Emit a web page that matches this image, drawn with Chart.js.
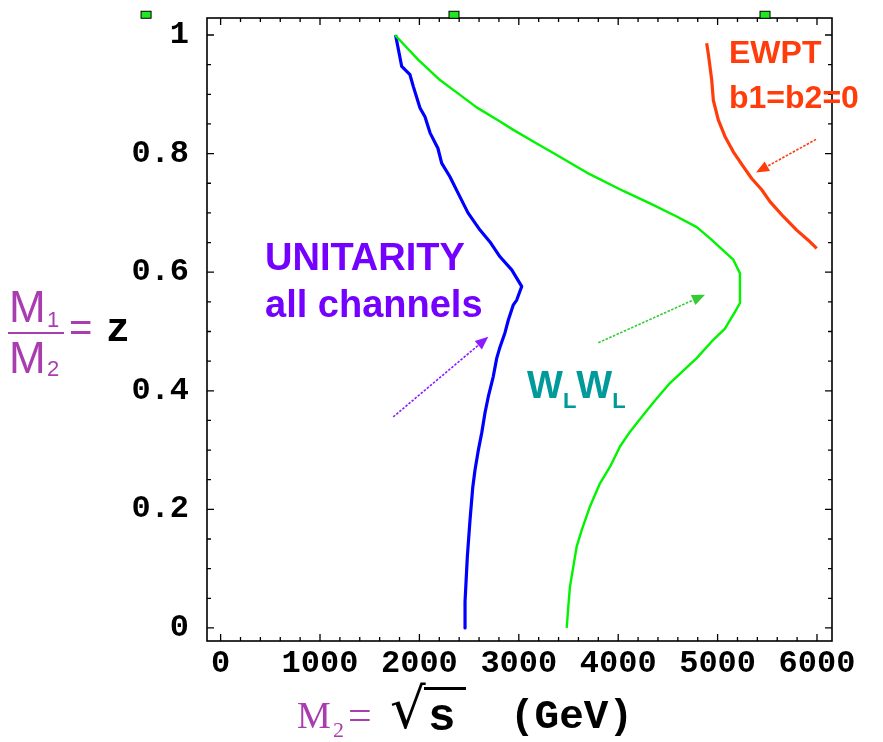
<!DOCTYPE html>
<html>
<head>
<meta charset="utf-8">
<script src="https://cdn.jsdelivr.net/npm/chart.js@4.4.1/dist/chart.umd.min.js"></script>
<style>
  html, body { margin: 0; padding: 0; background: #fff; }
  #wrap { position: relative; width: 883px; height: 742px; overflow: hidden; }
  #plot { position: absolute; left: 0; top: 0; }
  .t { position: absolute; white-space: nowrap; line-height: 1; }
  .sans { font-family: "Liberation Sans", Arial, sans-serif; }
  .serif { font-family: "Liberation Serif", "Times New Roman", serif; }
  .mono { font-family: "Liberation Mono", "Courier New", monospace; font-weight: bold; color: #000; }
  .mag { color: #a93cae; }
  .note { font-family: "Liberation Sans", Arial, sans-serif; font-weight: bold; }
  .note sub { font-size: 22px; vertical-align: -10px; }
</style>
</head>
<body>
<div id="wrap">
  <canvas id="plot" width="883" height="742"></canvas>

  <!-- y title: M1/M2 = z -->
  <div class="t sans mag" style="left:9px;top:285px;font-size:44px">M</div>
  <div class="t sans mag" style="left:47px;top:309px;font-size:22px">1</div>
  <div class="t" style="left:8px;top:332px;width:56px;height:2px;background:#a93cae"></div>
  <div class="t sans mag" style="left:9px;top:336px;font-size:44px">M</div>
  <div class="t sans mag" style="left:47px;top:358px;font-size:22px">2</div>
  <div class="t sans mag" style="left:69px;top:307px;font-size:40px">=</div>
  <div class="t mono" style="left:106px;top:311px;font-size:40px">z</div>

  <!-- x title: M2 = sqrt(s) (GeV) -->
  <div class="t serif mag" style="left:297px;top:696px;font-size:38px">M</div>
  <div class="t serif mag" style="left:333px;top:719px;font-size:22px">2</div>
  <div class="t serif mag" style="left:348px;top:694px;font-size:42px">=</div>
  <div class="t" style="left:390px;top:681px;font-size:56px;font-family:'DejaVu Sans',sans-serif">√</div>
  <div class="t" style="left:424px;top:687px;width:42px;height:3px;background:#000"></div>
  <div class="t mono" style="left:428px;top:695px;font-size:46px">s</div>
  <div class="t mono" style="left:510px;top:697px;font-size:41px">(GeV)</div>

  <!-- curve labels -->
  <div class="t note" style="left:265px;top:238px;font-size:38px;color:#7400ff">UNITARITY</div>
  <div class="t note" style="left:265px;top:285px;font-size:38px;color:#7400ff">all channels</div>
  <div class="t note" style="left:527px;top:366px;font-size:38px;color:#009a9a">W<sub>L</sub>W<sub>L</sub></div>
  <div class="t note" style="left:729px;top:36px;font-size:32px;color:#ff3c0a">EWPT</div>
  <div class="t note" style="left:729px;top:81px;font-size:32px;color:#ff3c0a">b1=b2=0</div>
</div>

<script>
// axis ranges (GeV on x, z = M1/M2 on y)
const X_MIN = -137, X_MAX = 6151;
const Z_MIN = -0.022, Z_MAX = 1.0287;

const xTicks = [0, 1000, 2000, 3000, 4000, 5000, 6000];
const zTicks = [0, 0.2, 0.4, 0.6, 0.8, 1];
const zTickLabels = ['0', '0.2', '0.4', '0.6', '0.8', '1'];
const X_MINOR = 200, Z_MINOR = 0.05;

// unitarity bound, all channels (blue)
const unitarityX = [1760, 1822, 1905, 1939, 2006, 2056, 2107, 2186, 2224, 2307, 2408, 2489, 2610,
  2710, 2811, 2929, 3029, 2979, 2945, 2894, 2861, 2811, 2778, 2743, 2693, 2660, 2627, 2593,
  2559, 2536, 2509, 2482, 2459, 2459];
const unitarityZ = [1.0, 0.947, 0.933, 0.913, 0.877, 0.862, 0.835, 0.809, 0.784, 0.761, 0.727, 0.700, 0.671,
  0.651, 0.626, 0.604, 0.576, 0.553, 0.545, 0.519, 0.498, 0.474, 0.455, 0.424, 0.390, 0.363, 0.329, 0.300,
  0.266, 0.236, 0.182, 0.120, 0.044, 0];

// W_L W_L channel (green)
const wlwlX = [1754, 1989, 2207, 2408, 2576, 2811, 2945, 3180, 3347, 3683, 4051, 4320, 4588, 4790,
  4924, 5158, 5225, 5225, 5175, 5074, 4957, 4790, 4521, 4387, 4252, 4119, 4018, 3918, 3817,
  3716, 3633, 3582, 3548, 3515, 3498, 3482];
const wlwlZ = [1.0, 0.958, 0.924, 0.899, 0.878, 0.854, 0.840, 0.817, 0.801, 0.768, 0.737, 0.716, 0.694, 0.676,
  0.657, 0.621, 0.598, 0.548, 0.533, 0.505, 0.486, 0.455, 0.413, 0.387, 0.359, 0.331, 0.306, 0.272, 0.244,
  0.205, 0.165, 0.137, 0.103, 0.070, 0.036, 0];

// EWPT bound, b1 = b2 = 0 (red)
const ewptX = [4890, 4906, 4941, 4957, 5007, 5074, 5158, 5259, 5343, 5444, 5527, 5661, 5796, 5912, 5997];
const ewptZ = [0.986, 0.969, 0.924, 0.890, 0.857, 0.829, 0.803, 0.778, 0.758, 0.739, 0.719, 0.694, 0.671, 0.654, 0.640];

// little green markers just above the top edge
const topMarkX = [-750, 2348, 5477];
const topMarkZ = [1.035, 1.035, 1.035];

// label arrows: tail -> tip
const arrowTailX = [1737, 3800, 5990];
const arrowTailZ = [0.356, 0.481, 0.824];
const arrowTipX  = [2693, 4873, 5386];
const arrowTipZ  = [0.491, 0.562, 0.768];
const arrowColors = ['#8a1cff', '#33cc33', '#ff3c0a'];

const pts = (xs, ys) => xs.map((x, i) => ({ x, y: ys[i] }));

const curve = (data, color, width) => ({
  data, showLine: true, borderColor: color, borderWidth: width,
  pointRadius: 0, tension: 0, fill: false, borderJoinStyle: 'round',
});

// frame + inward ticks on all four sides
const framePlugin = {
  id: 'frame',
  afterDatasetsDraw(chart) {
    const { ctx, chartArea: a, scales: { x, y } } = chart;
    ctx.save();
    ctx.strokeStyle = '#000';
    ctx.lineWidth = 1.6;
    ctx.strokeRect(a.left, a.top, a.right - a.left, a.bottom - a.top);
    ctx.lineWidth = 1.3;
    ctx.beginPath();
    for (let v = 0; v <= X_MAX; v += X_MINOR) {
      const px = x.getPixelForValue(v);
      const len = v % 1000 === 0 ? 7 : 4;
      ctx.moveTo(px, a.bottom); ctx.lineTo(px, a.bottom - len);
      ctx.moveTo(px, a.top);    ctx.lineTo(px, a.top + len);
    }
    for (let i = 0; i * Z_MINOR <= Z_MAX; i++) {
      const py = y.getPixelForValue(i * Z_MINOR);
      const len = i % 4 === 0 ? 7 : 4;
      ctx.moveTo(a.left, py);  ctx.lineTo(a.left + len, py);
      ctx.moveTo(a.right, py); ctx.lineTo(a.right - len, py);
    }
    ctx.stroke();

    // top markers sit outside the plot area, so draw them here
    ctx.lineWidth = 1;
    topMarkX.forEach((v, i) => {
      const px = x.getPixelForValue(v), py = y.getPixelForValue(topMarkZ[i]);
      ctx.fillStyle = '#22e622';
      ctx.fillRect(px - 5, py - 3, 10, 7);
      ctx.strokeRect(px - 5, py - 3, 10, 7);
    });
    ctx.restore();
  },
};

const arrowPlugin = {
  id: 'arrows',
  afterDatasetsDraw(chart) {
    const { ctx, scales: { x, y } } = chart;
    ctx.save();
    arrowTailX.forEach((_, i) => {
      const x0 = x.getPixelForValue(arrowTailX[i]), y0 = y.getPixelForValue(arrowTailZ[i]);
      const x1 = x.getPixelForValue(arrowTipX[i]),  y1 = y.getPixelForValue(arrowTipZ[i]);
      const ang = Math.atan2(y1 - y0, x1 - x0);
      const head = 13, half = 5.5;
      const bx = x1 - head * Math.cos(ang), by = y1 - head * Math.sin(ang);
      ctx.strokeStyle = ctx.fillStyle = arrowColors[i];
      ctx.lineWidth = 1.6;
      ctx.setLineDash([2.5, 1.5]);
      ctx.beginPath(); ctx.moveTo(x0, y0); ctx.lineTo(bx, by); ctx.stroke();
      ctx.setLineDash([]);
      ctx.beginPath();
      ctx.moveTo(x1, y1);
      ctx.lineTo(bx + half * Math.sin(ang), by - half * Math.cos(ang));
      ctx.lineTo(bx - half * Math.sin(ang), by + half * Math.cos(ang));
      ctx.closePath(); ctx.fill();
    });
    ctx.restore();
  },
};

const tickFont = { family: 'Liberation Mono', size: 32, weight: 'bold' };

new Chart(document.getElementById('plot'), {
  type: 'scatter',
  data: {
    datasets: [
      curve(pts(wlwlX, wlwlZ), '#00f400', 2.4),
      curve(pts(unitarityX, unitarityZ), '#0000ff', 3.2),
      curve(pts(ewptX, ewptZ), '#ff3c0a', 3.2),
    ],
  },
  options: {
    responsive: false,
    animation: false,
    layout: { padding: { top: 18, right: 51, left: 0, bottom: 0 } },
    plugins: { legend: { display: false }, tooltip: { enabled: false } },
    scales: {
      x: {
        type: 'linear', min: X_MIN, max: X_MAX,
        afterBuildTicks: s => { s.ticks = xTicks.map(v => ({ value: v })); },
        afterFit: s => { s.height = 101; s.paddingLeft = 0; s.paddingRight = 0; },
        grid: { display: false }, border: { display: false },
        ticks: {
          font: tickFont, color: '#000', padding: -4,
          maxRotation: 0, autoSkip: false, callback: v => String(v),
        },
      },
      y: {
        type: 'linear', min: Z_MIN, max: Z_MAX,
        afterBuildTicks: s => { s.ticks = zTicks.map(v => ({ value: v })); },
        afterFit: s => { s.width = 207; s.paddingTop = 0; s.paddingBottom = 0; },
        grid: { display: false }, border: { display: false },
        ticks: {
          font: tickFont, color: '#000', padding: 10, autoSkip: false,
          callback: (v, i) => zTickLabels[i],
        },
      },
    },
  },
  plugins: [framePlugin, arrowPlugin],
});
</script>
</body>
</html>
